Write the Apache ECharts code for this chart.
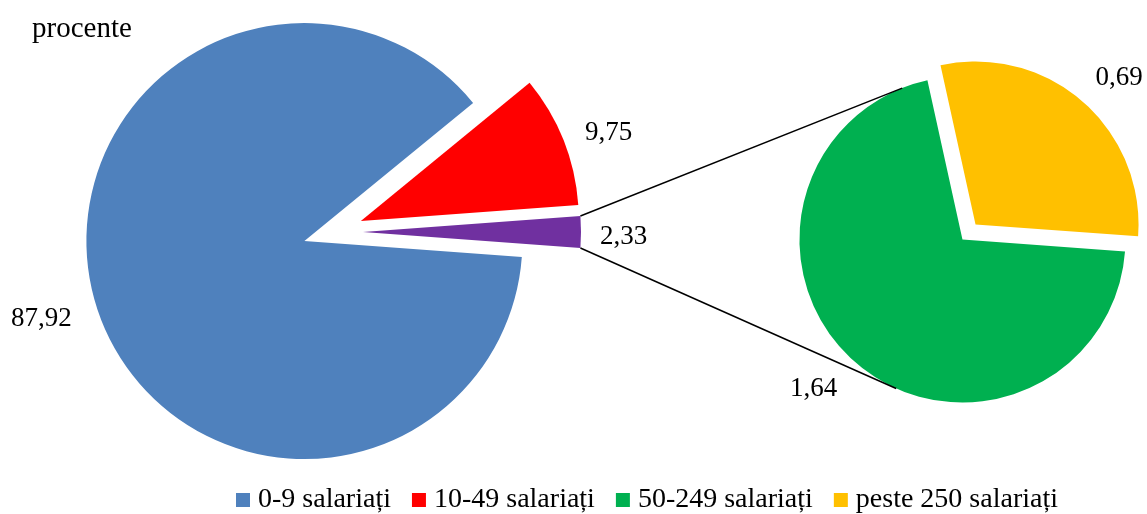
<!DOCTYPE html>
<html>
<head>
<meta charset="utf-8">
<script src="https://cdn.jsdelivr.net/npm/echarts@6/dist/echarts.min.js"></script>
<style>html,body{margin:0;padding:0;background:#fff}#c{width:1147px;height:514px}</style>
</head>
<body>
<div id="c"></div>
<script>
// ---- data ----
const mainNames = ['0-9 salariați', '10-49 salariați', '50 salariați și peste'];
const mainValues = [87.92, 9.75, 2.33];
const subNames = ['50-249 salariați', 'peste 250 salariați'];
const subValues = [1.64, 0.69];
const legendNames = ['0-9 salariați', '10-49 salariați', '50-249 salariați', 'peste 250 salariați'];
const unitLabel = 'procente';

// ---- layout / style ----
const FONT = '"Liberation Serif", "Times New Roman", serif';
const mainColors = ['#4F81BD', '#FF0000', '#7030A0'];
const subColors = ['#00B050', '#FFC000'];
const C1 = [333, 232], R1 = 218, OFF1 = 30;
const C2 = [969, 232], R2 = 163, OFF2 = 10;

const mainTotal = mainValues.reduce((a, b) => a + b, 0);
const subTotal = subValues.reduce((a, b) => a + b, 0);
const otherHalf = mainValues[2] / mainTotal * 180;   // half-angle of the split slice (deg)
const startAngle = -otherHalf;                          // split slice centred on the horizontal
const fmt = v => v.toFixed(2).replace('.', ',');

const mainLine = [{length: 25, length2: 0}, {length: 20, length2: 0}, {length: 12, length2: 0}];
const subLine = [{length: 22, length2: 0}, {length: 14, length2: 0}];
// fine label nudges (px) per series / data index
const mainNudge = [[4, 5], [-2, 0], [2, 5]];
const subNudge = [[1, 9], [-1, -13]];

// geometry of the connector lines (derived from data)
const rad = d => d * Math.PI / 180;
const pt = (c, r, a) => [c[0] + r * Math.cos(rad(a)), c[1] - r * Math.sin(rad(a))];
const splitCenter = pt(C1, OFF1, 0);
const topCorner = pt(splitCenter, R1, otherHalf);
const botCorner = pt(splitCenter, R1, -otherHalf);
const greenSpan = subValues[0] / subTotal * 360;
const greenMid = startAngle - greenSpan / 2;
const greenCenter = pt(C2, OFF2, greenMid);
function tangent(P, sign) {
  const vx = P[0] - greenCenter[0], vy = -(P[1] - greenCenter[1]);
  const D = Math.hypot(vx, vy);
  const th = Math.atan2(vy, vx) * 180 / Math.PI;
  const al = Math.acos(R2 / D) * 180 / Math.PI;
  return pt(greenCenter, R2, th + sign * al);
}
const tTop = tangent(topCorner, -1);
const tBot = tangent(botCorner, 1);

const labelStyle = {
  show: true, position: 'outside', color: '#000', fontSize: 27, fontFamily: FONT,
  formatter: p => fmt(p.value)
};

const chart = echarts.init(document.getElementById('c'), null, {renderer: 'canvas'});
chart.setOption({
  animation: false,
  backgroundColor: '#fff',
  title: {
    text: unitLabel, left: 27, top: 10,
    textStyle: {fontFamily: FONT, fontSize: 29, fontWeight: 'normal', color: '#000'}
  },
  legend: {
    data: legendNames, left: 231, top: 481, itemWidth: 14, itemHeight: 14, itemGap: 21,
    icon: 'rect', selectedMode: false,
    textStyle: {fontFamily: FONT, fontSize: 28, color: '#000', padding: [0, 0, 0, 3]}
  },
  graphic: [
    {type: 'line', shape: {x1: topCorner[0], y1: topCorner[1], x2: tTop[0], y2: tTop[1]},
     style: {stroke: '#000', lineWidth: 1.5}, z: 10},
    {type: 'line', shape: {x1: botCorner[0], y1: botCorner[1], x2: tBot[0], y2: tBot[1]},
     style: {stroke: '#000', lineWidth: 1.5}, z: 10}
  ],
  series: [
    {
      type: 'pie', center: C1, radius: R1, startAngle: startAngle, clockwise: true,
      selectedMode: 'multiple', selectedOffset: OFF1, avoidLabelOverlap: false,
      label: labelStyle, labelLine: {show: false, length: 25, length2: 0},
      labelLayout: p => ({dx: mainNudge[p.dataIndex][0], dy: mainNudge[p.dataIndex][1]}),
      emphasis: {disabled: true}, silent: true,
      data: mainValues.map((v, i) => ({
        name: mainNames[i], value: v, selected: true,
        itemStyle: {color: mainColors[i]},
        labelLine: {show: false, length: mainLine[i].length, length2: mainLine[i].length2}
      }))
    },
    {
      type: 'pie', center: C2, radius: R2, startAngle: startAngle, clockwise: true,
      selectedMode: 'multiple', selectedOffset: OFF2, avoidLabelOverlap: false,
      label: labelStyle, labelLine: {show: false, length: 20, length2: 0},
      labelLayout: p => ({dx: subNudge[p.dataIndex][0], dy: subNudge[p.dataIndex][1]}),
      emphasis: {disabled: true}, silent: true,
      data: subValues.map((v, i) => ({
        name: subNames[i], value: v, selected: true,
        itemStyle: {color: subColors[i]},
        labelLine: {show: false, length: subLine[i].length, length2: subLine[i].length2}
      }))
    }
  ]
});
</script>
</body>
</html>
